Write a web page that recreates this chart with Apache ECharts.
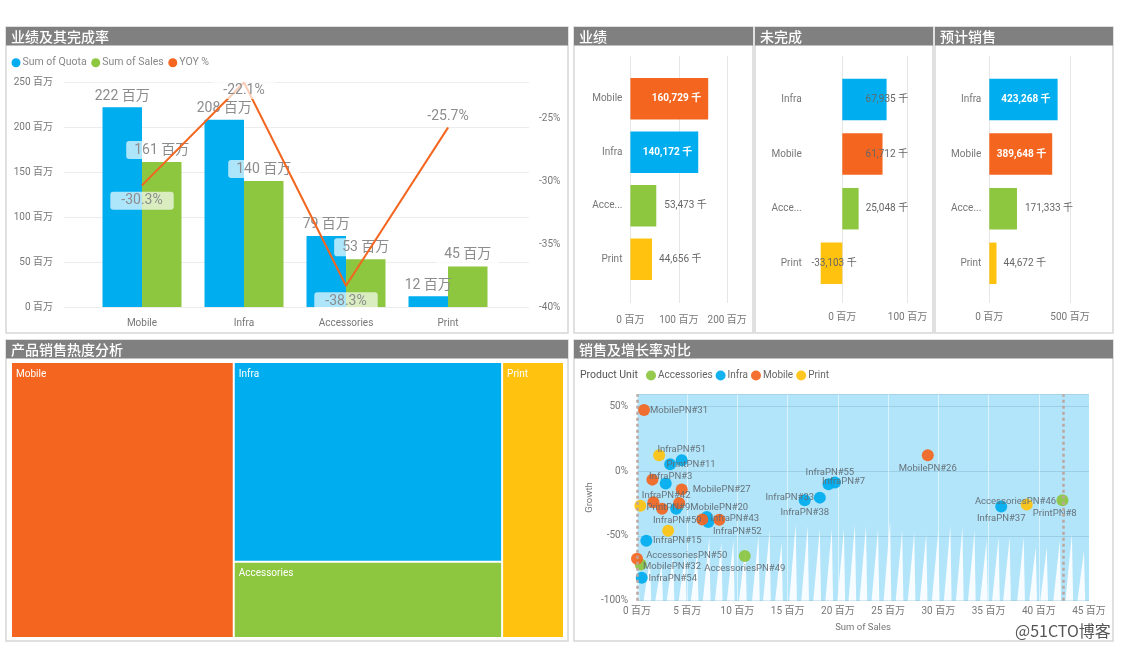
<!DOCTYPE html>
<html><head><meta charset="utf-8">
<style>html,body{margin:0;padding:0;background:#fff}#c{width:1122px;height:648px}</style>
<script src="https://cdn.jsdelivr.net/npm/echarts@6/dist/echarts.min.js"></script>
</head><body><div id="c"></div>
<script>
const FONT = 'Roboto, "Noto Sans CJK SC", sans-serif';
const BLUE = '#00ADEF', GREEN = '#8DC63F', ORANGE = '#F4651F', YELLOW = '#FFC20E';
const unitColors = {Mobile: ORANGE, Infra: BLUE, Accessories: GREEN, Print: YELLOW};

// Combo chart
const comboCategories = ['Mobile', 'Infra', 'Accessories', 'Print'];
const quotaValues = [222, 208, 79, 12];
const salesValues = [161, 140, 53, 45];
const yoyValues = [-30.3, -22.1, -38.3, -25.7];

// Three bar panels (values in thousands)
const achievedCategories = ['Mobile', 'Infra', 'Accessories', 'Print'];
const achievedValues = [160729, 140172, 53473, 44656];
const remainingCategories = ['Infra', 'Mobile', 'Accessories', 'Print'];
const remainingValues = [67935, 61712, 25048, -33103];
const forecastCategories = ['Infra', 'Mobile', 'Accessories', 'Print'];
const forecastValues = [423268, 389648, 171333, 44672];

// Treemap
const treemapNames = ['Mobile', 'Infra', 'Accessories', 'Print'];
const treemapValues = [160729, 140172, 53473, 44656];

// Scatter: [name, sales in millions, growth %]
const accessoriesPoints = [
  ['AccessoriesPN#46', 42.36, -22.4], ['AccessoriesPN#49', 10.73, -65.5], ['AccessoriesPN#50', 0.37, -72]];
const infraPoints = [
  ['InfraPN#51', 4.45, 8.5], ['', 3.3, 5.4], ['InfraPN#3', 2.86, -9.5], ['InfraPN#42', 3.9, -28.9],
  ['InfraPN#43', 6.95, -35.3], ['InfraPN#52', 7.1, -39.2], ['InfraPN#15', 0.93, -53.7], ['InfraPN#54', 0.47, -82.3],
  ['InfraPN#38', 16.7, -22.4], ['InfraPN#33', 18.2, -20.4], ['InfraPN#7', 19.07, -10], ['InfraPN#55', 19.7, -8.8],
  ['InfraPN#37', 36.26, -27.3]];
const mobilePoints = [
  ['MobilePN#31', 0.7, 47.2], ['', 1.53, -6.5], ['MobilePN#27', 4.45, -14.2], ['', 1.63, -24], ['', 2.5, -28.9],
  ['MobilePN#20', 4.2, -24.5], ['InfraPN#59', 6.5, -37.2], ['', 8.2, -37.4], ['MobilePN#32', 0, -67.6],
  ['MobilePN#26', 28.95, 12.4]];
const printPoints = [
  ['PrintPN#11', 2.2, 12.4], ['PrintPN#9', 0.33, -26.6], ['', 3.1, -45.9], ['PrintPN#8', 38.8, -25.8]];
const referenceSales = [0, 42.4];
const spikePeaks = [
  [0.13,-74],[1.3,-67.6],[2.46,-71.4],[3.6,-65],[4.8,-63.7],[6,-61.1],[7.2,-50.8],[8.4,-54.7],[9.6,-53.4],[10.8,-58.5],
  [12.1,-49.5],[13.2,-45.6],[14.4,-54.7],[15.8,-40.5],[17,-41.8],[18.2,-44.3],[19.4,-44.3],[20.6,-44.3],[21.7,-40.5],
  [22.8,-41.8],[24,-44.3],[25.2,-37.9],[26.4,-45.6],[27.6,-46.9],[28.8,-48.2],[30,-45.6],[31.2,-41.8],[32.4,-43],
  [33.6,-45.6],[34.8,-53.4],[36,-50.8],[37.1,-50.8],[38.5,-50.8],[39.7,-58.5],[40.8,-58.5],[42.1,-53.4],[43.3,-48.2],[44.5,-61]];

// Label placement for scatter (px from the dot centre to the label centre)
const scatterLabelOffsets = {
  'AccessoriesPN#46':[-47,1],'AccessoriesPN#49':[0,13],'AccessoriesPN#50':[46,-9],
  'InfraPN#51':[0,-11],'InfraPN#3':[5,-7],'InfraPN#42':[-10,-13],'InfraPN#43':[28,2],'InfraPN#52':[29,10],
  'InfraPN#15':[31,0],'InfraPN#54':[31,1],'InfraPN#38':[0,12],'InfraPN#33':[-30,0],'InfraPN#7':[15,-3],'InfraPN#55':[-5,-10],
  'InfraPN#37':[0,12],'MobilePN#31':[35,1],'MobilePN#27':[40,0],'MobilePN#20':[40,5],'InfraPN#59':[-25,1],
  'MobilePN#32':[35,8],'MobilePN#26':[0,13],'PrintPN#11':[32,9],'PrintPN#9':[28,2],'PrintPN#8':[28,9]};

const panels = [
  [6,27,562,306,'业绩及其完成率'],[574,27,179,306,'业绩'],[755,27,178,306,'未完成'],[935,27,178,306,'预计销售'],
  [6,340,562,301,'产品销售热度分析'],[574,340,539,301,'销售及增长率对比']];
const graphic = [];
panels.forEach(([x,y,w,h,t]) => {
  graphic.push({type:'rect',z:-10,shape:{x,y,width:w,height:h},style:{fill:'#fff',stroke:'#d6d6d6',lineWidth:1.5}});
  graphic.push({type:'rect',z:-9,shape:{x,y,width:w,height:18.5},style:{fill:'#808080'}});
  graphic.push({type:'text',z:20,x:x+5,y:y+9.5,style:{text:t,fill:'#fff',fontSize:14,fontWeight:500,fontFamily:'"Noto Sans CJK SC"',verticalAlign:'middle'}});
});
graphic.push({type:'text',z:20,x:580,y:375.5,style:{text:'Product Unit',fill:'#555',fontSize:10.5,fontFamily:FONT,verticalAlign:'middle'}});
graphic.push({type:'text',z:30,x:1015,y:631,style:{text:'@51CTO博客',fill:'#555',fontSize:16,fontFamily:'"Noto Sans CJK SC"',verticalAlign:'middle'}});

const grids = [], xAxes = [], yAxes = [], series = [];
const tick = {show:false}, noLine = {show:false};
const million = v => v + ' 百万';
const tickText = {color:'#777',fontSize:10,fontFamily:FONT};

// ---- Combo
grids.push({left:64,width:465,top:82,height:225});
xAxes.push({gridIndex:0,type:'value',show:false,min:0,max:1});
yAxes.push({gridIndex:0,type:'value',min:0,max:250,interval:50,axisLine:noLine,axisTick:tick,
  splitLine:{lineStyle:{color:'#ececec'}},axisLabel:{...tickText,margin:11,formatter:million}});
yAxes.push({gridIndex:0,type:'value',position:'right',min:-40,max:-22.06,interval:5,axisLine:noLine,axisTick:tick,
  splitLine:{show:false},axisLabel:{...tickText,margin:10,showMaxLabel:false,formatter:v=>v+'%'}});
grids.push({left:91,width:408,top:82,height:225});
xAxes.push({gridIndex:1,type:'category',data:comboCategories,axisLine:noLine,axisTick:tick,axisLabel:{...tickText,margin:11}});
yAxes.push({gridIndex:1,type:'value',show:false,min:0,max:250,splitLine:{show:false}});
yAxes.push({gridIndex:1,type:'value',show:false,min:-40,max:-22.06,splitLine:{show:false}});
const bigLabel = {show:true,color:'#8c8c8c',fontSize:14,fontFamily:FONT,backgroundColor:'rgba(255,255,255,0.68)',borderRadius:3,padding:[2,8,2,8]};
series.push({name:'Sum of Quota',type:'bar',xAxisIndex:1,yAxisIndex:2,data:quotaValues,barWidth:39.5,barGap:0,itemStyle:{color:BLUE},
  label:{...bigLabel,position:'top',distance:2,backgroundColor:'transparent',formatter:p=>p.value+' 百万'},z:2});
series.push({name:'Sum of Sales',type:'bar',xAxisIndex:1,yAxisIndex:2,data:salesValues,barWidth:39.5,barGap:0,itemStyle:{color:GREEN},
  label:{...bigLabel,position:'top',distance:3,formatter:p=>p.value+' 百万'},z:2});
const yoySides = [['bottom',6],['bottom',-2],['bottom',6],['top',2]];
series.push({name:'YOY %',type:'line',xAxisIndex:1,yAxisIndex:3,z:3,symbol:'none',showSymbol:true,
  lineStyle:{color:ORANGE,width:2},itemStyle:{color:ORANGE},
  data:yoyValues.map((v,i)=>({value:v,symbol:'circle',symbolSize:1,
    label:{...bigLabel,show:true,padding:[2,11,2,11],position:yoySides[i][0],distance:yoySides[i][1],formatter:p=>p.value.toFixed(1)+'%'}}))});

// ---- Three bar panels
function barPanel(cats, vals, o) {
  const g = grids.length, y0 = yAxes.length;
  grids.push({left:o.left,width:o.width,top:56,height:247});
  xAxes.push({gridIndex:g,type:'value',min:0,max:o.max,interval:o.interval,axisLine:noLine,axisTick:tick,
    splitLine:{lineStyle:{color:'#e6e6e6'}},axisLabel:{...tickText,margin:o.tickMargin,formatter:v=>(v/1000)+' 百万'}});
  yAxes.push({gridIndex:g,type:'value',show:false,min:0,max:1,splitLine:{show:false}});
  grids.push({left:o.barLeft,width:o.barWidth,top:o.bandTop,height:o.bandHeight});
  xAxes.push({gridIndex:g+1,type:'value',show:false,min:o.barMin,max:o.max,splitLine:{show:false}});
  yAxes.push({gridIndex:g+1,type:'category',inverse:true,data:cats,axisLine:noLine,axisTick:tick,
    axisLabel:{...tickText,margin:8,width:34,overflow:'truncate',ellipsis:'...'}});
  series.push({type:'bar',name:o.name,xAxisIndex:g+1,yAxisIndex:y0+1,barWidth:41.5,
    data:vals.map((v,i)=>{
      const r = o.labels[i];
      const inside = r[0]==='insideRight';
      return {value:v,itemStyle:{color:unitColors[cats[i]]},
        label:{show:true,position:r[0],distance:r[1],fontFamily:FONT,fontSize:10,
          color:inside?'#fff':'#666',fontWeight:inside?'bold':'normal',
          formatter:p=>p.value.toLocaleString('en-US')+' 千'}};
    })});
}
barPanel(achievedCategories, achievedValues, {name:'业绩',left:630.4,width:96.8,barLeft:630.4,barWidth:96.8,barMin:0,max:200000,interval:100000,
  tickMargin:12,bandTop:72,bandHeight:214,labels:[['insideRight',7],['insideRight',6],['right',8],['right',7]]});
barPanel(remainingCategories, remainingValues, {name:'未完成',left:842.3,width:65.2,barLeft:809.7,barWidth:97.8,barMin:-50000,max:100000,interval:100000,
  tickMargin:9,bandTop:72.2,bandHeight:218.4,labels:[['right',-21],['right',-17],['right',7],['left',-36]]});
barPanel(forecastCategories, forecastValues, {name:'预计销售',left:989.3,width:80.7,barLeft:989.3,barWidth:80.7,barMin:0,max:500000,interval:500000,
  tickMargin:9,bandTop:72.2,bandHeight:218.4,labels:[['insideRight',7],['insideRight',6],['right',8],['right',7]]});

// ---- Treemap
series.push({type:'treemap',left:12,top:363,width:551,height:274,roam:false,nodeClick:false,squareRatio:1.6,
  breadcrumb:{show:false},
  label:{show:true,position:'insideTopLeft',offset:[-1,1],color:'#fff',fontSize:10,fontFamily:FONT,formatter:'{b}'},
  levels:[{itemStyle:{borderWidth:0,gapWidth:2}}],
  data:treemapNames.map((n,i)=>({name:n,value:treemapValues[i],itemStyle:{color:unitColors[n]}}))});

// ---- Scatter
const sg = grids.length, sy = yAxes.length;
grids.push({left:637,width:452,top:394.3,height:206.4,show:true,backgroundColor:'#B2E4FA',borderWidth:0});
xAxes.push({gridIndex:sg,type:'value',min:0,max:45,interval:5,name:'Sum of Sales',nameLocation:'middle',nameGap:22,
  nameTextStyle:{color:'#777',fontSize:9.5,fontFamily:FONT},axisLine:noLine,axisTick:tick,
  splitLine:{lineStyle:{color:'rgba(255,255,255,0.55)'}},axisLabel:{...tickText,margin:6,formatter:million}});
yAxes.push({gridIndex:sg,type:'value',min:-100,max:59.4,interval:50,name:'Growth',nameLocation:'middle',nameGap:43,nameRotate:90,
  nameTextStyle:{color:'#777',fontSize:9.5,fontFamily:FONT},axisLine:noLine,axisTick:tick,
  splitLine:{lineStyle:{color:'rgba(110,170,195,0.35)'}},axisLabel:{...tickText,margin:9,showMaxLabel:false,formatter:v=>v+'%'}});
series.push({type:'line',name:'spikes',xAxisIndex:sg,yAxisIndex:sy,silent:true,symbol:'none',z:1,
  lineStyle:{width:0},areaStyle:{color:'#fff',opacity:0.88,origin:'start'},
  data:spikePeaks.flatMap(([x,y])=>[[x-0.65,-100],[x,y],[x+0.12,-100]]).filter(p=>p[0]>=0)});
function scatterSeries(name, pts, extra) {
  series.push({type:'scatter',name,xAxisIndex:sg,yAxisIndex:sy,symbolSize:12,z:4,itemStyle:{color:unitColors[name],opacity:0.92},
    data:pts.map(([n,x,y])=>({value:[x,y],name:n,label:{
      show:!!n,position:'inside',offset:scatterLabelOffsets[n]||[0,0],color:'#5f6a70',fontSize:9.5,fontFamily:FONT,formatter:n}})),
    ...extra});
}
scatterSeries('Accessories', accessoriesPoints, {markLine:{silent:true,symbol:'none',label:{show:false},
  lineStyle:{color:'#bda69f',width:2.5,type:[3,3]},data:referenceSales.map(x=>({xAxis:x}))}});
scatterSeries('Infra', infraPoints);
scatterSeries('Mobile', mobilePoints);
scatterSeries('Print', printPoints);

const chart = echarts.init(document.getElementById('c'),null,{renderer:'canvas'});
chart.setOption({
  animation:false,textStyle:{fontFamily:FONT},graphic:{elements:graphic},
  legend:[
    {left:11.5,top:57.5,icon:'circle',itemWidth:9,itemHeight:9,itemGap:4.5,selectedMode:false,padding:0,
     textStyle:{color:'#888',fontSize:10.5,padding:[0,0,0,-3],fontFamily:FONT},data:['Sum of Quota','Sum of Sales','YOY %']},
    {left:646,top:370.5,icon:'circle',itemWidth:10,itemHeight:10,itemGap:3,selectedMode:false,padding:0,
     textStyle:{color:'#666',fontSize:10,padding:[0,0,0,-3],fontFamily:FONT},data:['Accessories','Infra','Mobile','Print']}],
  grid:grids,xAxis:xAxes,yAxis:yAxes,series
});
</script></body></html>
